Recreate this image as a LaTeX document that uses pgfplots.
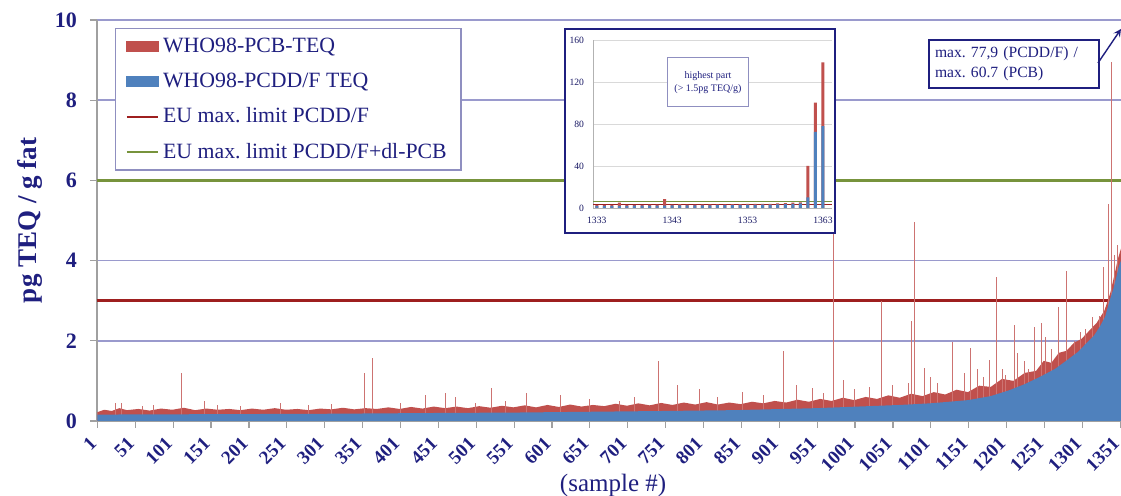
\documentclass[border=0pt]{standalone}
\usepackage{pgfplots}
\pgfplotsset{compat=1.18}
\usepackage{fontspec}
\setmainfont{Liberation Serif}
\frenchspacing
\definecolor{navy}{HTML}{1F1F7F}
\definecolor{pcbred}{HTML}{C0504D}
\definecolor{pcdblue}{HTML}{4F81BD}
\definecolor{gridlav}{HTML}{9A9ACD}
\definecolor{limgreen}{HTML}{77933C}
\definecolor{limred}{HTML}{9E1F1F}
\definecolor{axgray}{HTML}{A0A0A0}
\definecolor{legframe}{HTML}{8F8FC0}
\begin{document}
\begin{tikzpicture}
\begin{axis}[
  width=512pt, height=200.5pt, scale only axis,
  xmin=0.5, xmax=1352, ymin=0, ymax=10,
  axis x line*=bottom, axis y line*=left,
  axis line style={draw=axgray, line width=0.6pt, -},
  tick style={draw=axgray, line width=0.6pt},
  tick align=outside, major tick length=3.5pt,
  xtick={1,51,...,1351}, ytick={0,2,...,10},
  ymajorgrids, grid style={draw=gridlav, line width=0.8pt},
  /pgf/number format/assume math mode=true,
  /pgf/number format/1000 sep={},
  yticklabel style={font=\bfseries\fontsize{11}{12}\selectfont, text=navy, xshift=-3pt},
  xticklabel style={font=\bfseries\fontsize{9.5}{10}\selectfont, text=navy, rotate=45, anchor=east, xshift=-2.5pt, yshift=-3pt},
  ylabel={pg TEQ / g fat},
  ylabel style={font=\bfseries\fontsize{13.5}{15}\selectfont, text=navy, at={(axis description cs:-0.0654,0.5)}, anchor=center},
  xlabel={(sample \#)},
  xlabel style={font=\fontsize{12.5}{14}\selectfont, text=navy, at={(axis description cs:0.504,-0.16)}, anchor=center},
  legend style={at={(axis description cs:0,1)}, anchor=north west, xshift=9pt, yshift=-4pt,
    draw=legframe, line width=0.75pt, fill=white, font=\fontsize{10.9}{12}\selectfont, text=navy,
    inner xsep=5pt, inner ysep=2.5pt, row sep=4.7pt, cells={anchor=west}},
  legend cell align=left,
]
\addlegendimage{legend image code/.code={\fill[pcbred] (0pt,-2.5pt) rectangle (15.5pt,2.5pt);}}
\addlegendentry{WHO98-PCB-TEQ}
\addlegendimage{legend image code/.code={\fill[pcdblue] (0pt,-2.5pt) rectangle (15.5pt,2.5pt);}}
\addlegendentry{WHO98-PCDD/F TEQ}
\addlegendimage{legend image code/.code={\draw[limred, line width=1pt] (0pt,0pt) -- (15.5pt,0pt);}}
\addlegendentry{EU max. limit PCDD/F}
\addlegendimage{legend image code/.code={\draw[limgreen, line width=1.2pt] (0pt,0pt) -- (15.5pt,0pt);}}
\addlegendentry{EU max. limit PCDD/F+dl-PCB}
% limit lines
\addplot[forget plot, draw=limred, line width=1.2pt] coordinates {(0.5,3) (1352,3)};
\addplot[forget plot, draw=limgreen, line width=1.4pt] coordinates {(0.5,6) (1352,6)};
% PCB (stacked total) band
\addplot[forget plot, fill=pcbred, draw=none] coordinates {
(1,0.22) (10,0.28) (20,0.25) (30,0.32) (40,0.27) (55,0.30) (70,0.26) (85,0.31) (100,0.28) (115,0.33)
(130,0.27) (145,0.31) (160,0.28) (175,0.30) (190,0.27) (205,0.31) (220,0.28) (235,0.32) (250,0.28) (265,0.30)
(280,0.27) (295,0.31) (310,0.29) (325,0.33) (340,0.29) (355,0.32) (370,0.30) (385,0.34) (400,0.30) (415,0.35)
(430,0.31) (445,0.36) (460,0.32) (475,0.36) (490,0.32) (505,0.37) (520,0.33) (535,0.38) (550,0.34) (565,0.39)
(580,0.34) (595,0.40) (610,0.35) (625,0.41) (640,0.36) (655,0.40) (670,0.37) (685,0.43) (700,0.38) (715,0.44)
(730,0.39) (745,0.45) (760,0.40) (775,0.46) (790,0.41) (805,0.47) (820,0.41) (835,0.46) (850,0.42) (865,0.48)
(880,0.44) (895,0.50) (910,0.46) (925,0.53) (940,0.48) (955,0.55) (970,0.50) (985,0.58) (1000,0.52) (1015,0.60)
(1030,0.55) (1045,0.64) (1060,0.58) (1075,0.68) (1090,0.62) (1105,0.72) (1120,0.66) (1135,0.78) (1150,0.72) (1165,0.88)
(1180,0.85) (1195,1.05) (1210,1.00) (1225,1.20) (1240,1.25) (1250,1.50) (1260,1.45) (1270,1.70) (1280,1.75) (1290,1.95)
(1300,2.05) (1310,2.25) (1320,2.45) (1330,2.75) (1338,3.20) (1344,3.70) (1348,4.05) (1352,4.30)
} \closedcycle;
% PCB spikes (total height)
\addplot[forget plot, ycomb, draw=pcbred!80!white, line width=0.5pt, mark=none] coordinates {
(25,0.45) (33,0.45) (60,0.38) (75,0.40) (112,1.2) (143,0.5) (160,0.40) (190,0.38) (243,0.45) (280,0.40)
(310,0.42) (353,1.2) (364,1.57) (401,0.45) (434,0.65) (460,0.7) (473,0.6) (500,0.45) (521,0.83) (540,0.5)
(567,0.7) (612,0.65) (650,0.55) (690,0.5) (710,0.6) (741,1.5) (767,0.9) (796,0.8) (820,0.6) (853,0.72)
(880,0.65) (906,1.75) (924,0.9) (945,0.83) (960,0.7) (973,4.9) (986,1.02) (1000,0.8) (1020,0.85) (1036,3.0)
(1050,0.9) (1071,0.95) (1076,2.5) (1080,4.96) (1093,1.33) (1100,1.1) (1110,0.95) (1130,1.98) (1146,1.2) (1154,1.82)
(1162,1.3) (1170,1.1) (1179,1.52) (1188,3.6) (1195,1.3) (1200,1.15) (1212,2.39) (1215,1.7) (1225,1.5) (1230,1.3)
(1238,2.35) (1247,2.45) (1252,2.1) (1260,1.8) (1269,2.84) (1280,3.75) (1290,2.0) (1298,2.23) (1305,2.3) (1315,2.6)
(1323,2.62) (1329,3.85) (1335,5.41) (1340,8.95) (1344,4.14) (1348,4.4)
};
% PCDD/F (sorted)
\addplot[forget plot, fill=pcdblue, draw=none] coordinates {
(1,0.16) (150,0.17) (300,0.18) (450,0.20) (550,0.21) (650,0.23) (750,0.25) (840,0.27) (950,0.32) (1060,0.40)
(1100,0.44) (1150,0.52) (1180,0.62) (1205,0.77) (1225,0.92) (1245,1.10) (1265,1.30) (1281,1.52) (1295,1.72) (1307,1.95)
(1316,2.12) (1324,2.35) (1331,2.60) (1337,3.00) (1342,3.30) (1346,3.60) (1349,3.85) (1352,4.00)
} \closedcycle;
\end{axis}
% inset frame
\draw[navy, line width=1pt, fill=white] (234pt,94pt) rectangle (369pt,196pt);
\begin{axis}[
  at={(248pt,106.5pt)}, anchor=south west,
  width=119.5pt, height=84pt, scale only axis,
  xmin=1332.5, xmax=1364.2, ymin=0, ymax=160,
  axis x line*=bottom, axis y line*=left,
  axis line style={draw=gray!60, line width=0.3pt, -},
  major tick length=0pt,
  xtick={1333,1343,1353,1363}, ytick={0,40,...,160},
  ymajorgrids, grid style={draw=gray!30, line width=0.3pt},
  /pgf/number format/assume math mode=true,
  /pgf/number format/1000 sep={},
  ticklabel style={font=\fontsize{4.8}{5}\selectfont, text=navy!80!black},
  yticklabel style={xshift=-1pt},
  xticklabel style={yshift=-1pt},
]
\addplot[draw=limgreen, line width=0.5pt] coordinates {(1332.5,6) (1364.2,6)};
\addplot[draw=limred, line width=0.4pt] coordinates {(1332.5,3) (1364.2,3)};
\addplot[ybar, bar width=1.5pt, bar shift=0pt, fill=pcbred, draw=none] coordinates {
(1333,2.8) (1334,2.9) (1335,2.9) (1336,5.2) (1337,2.9) (1338,3.0) (1339,3.0) (1340,3.1) (1341,3.1) (1342,8.5)
(1343,3.2) (1344,3.6) (1345,3.3) (1346,3.3) (1347,3.4) (1348,3.4) (1349,3.5) (1350,3.5) (1351,3.6) (1352,3.7)
(1353,3.8) (1354,3.8) (1355,3.9) (1356,4.0) (1357,4.4) (1358,4.7) (1359,5.0) (1360,5.4) (1361,40.2) (1362,100.4)
(1363,138.6)};
\addplot[ybar, bar width=1.5pt, bar shift=0pt, fill=pcdblue, draw=none] coordinates {
(1333,2.0) (1334,2.0) (1335,2.1) (1336,2.1) (1337,2.1) (1338,2.2) (1339,2.2) (1340,2.2) (1341,2.3) (1342,2.3)
(1343,2.4) (1344,2.4) (1345,2.5) (1346,2.5) (1347,2.6) (1348,2.6) (1349,2.7) (1350,2.7) (1351,2.8) (1352,2.9)
(1353,3.0) (1354,3.0) (1355,3.1) (1356,3.2) (1357,3.4) (1358,3.6) (1359,4.0) (1360,4.4) (1361,10.0) (1362,72.5)
(1363,77.9)};
\end{axis}
\node[draw=legframe, line width=0.5pt, fill=white, minimum width=39pt, minimum height=24.5pt, align=center,
  font=\fontsize{5}{6.5}\selectfont, text=navy] at (305.5pt,169.25pt) {highest part\\(> 1.5pg TEQ/g)};
% annotation
\node[draw=navy, line width=0.8pt, fill=white, minimum width=85pt, minimum height=24pt, text width=79pt,
  inner xsep=3pt, align=left, font=\fontsize{7.8}{10}\selectfont, text=navy] at (458.5pt,178.5pt)
  {max. 77,9 (PCDD/F) /\\max. 60.7 (PCB)};
\draw[navy, line width=0.7pt, -stealth] (500.5pt,179pt) -- (512pt,196pt);
\pgfresetboundingbox
\path[use as bounding box] (-48.5pt,-37.5pt) rectangle (512pt,210.5pt);
\end{tikzpicture}
\end{document}
